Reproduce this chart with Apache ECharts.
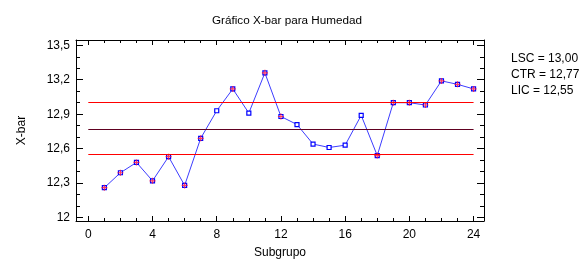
<!DOCTYPE html>
<html><head><meta charset="utf-8">
<script src="https://cdn.jsdelivr.net/npm/echarts@6/dist/echarts.min.js"></script>
<style>html,body{margin:0;padding:0;background:#fff}#c{width:588px;height:264px}</style>
</head><body><div id="c"></div>
<script>
const subgroups = [1,2,3,4,5,6,7,8,9,10,11,12,13,14,15,16,17,18,19,20,21,22,23,24];
const xbar = [12.26,12.39,12.48,12.32,12.53,12.28,12.69,12.93,13.12,12.91,13.26,12.88,
              12.81,12.64,12.61,12.63,12.89,12.54,13.00,13.00,12.98,13.19,13.16,13.12];
const flagged = [1,1,1,1,1,1,1,0,1,0,1,1,0,0,0,0,0,1,1,1,1,1,1,1];
const LSC = 13.00, CTR = 12.77, LIC = 12.55;
const xTickLabels = [0,4,8,12,16,20,24];
const xMinorTicks = [0,1,2,3,4,5,6,7,8,9,10,11,12,13,14,15,16,17,18,19,20,21,22,23,24];
const yTickLabels = [12,12.3,12.6,12.9,13.2,13.5];
const yMinorTicks = [12,12.1,12.2,12.3,12.4,12.5,12.6,12.7,12.8,12.9,13,13.1,13.2,13.3,13.4,13.5];
const title = 'Gráfico X-bar para Humedad';
const xName = 'Subgrupo', yName = 'X-bar';

const fmt = v => String(Math.round(v*10)/10).replace('.', ',');
const fmt2 = v => v.toFixed(2).replace('.', ',');
const FONT = 'Liberation Sans, Arial, sans-serif';
const XMIN = -0.767, XMAX = 24.65, YMIN = 11.97, YMAX = 13.546;

function xAx(pos, major, showLabel) {
  return {
    type: 'value', position: pos, min: XMIN, max: XMAX, splitLine: {show: false},
    axisLine: {show: major, onZero: false, lineStyle: {color: '#000', width: 1}},
    axisTick: {show: true, inside: true, length: major ? 5 : 3, customValues: major ? xTickLabels : xMinorTicks, lineStyle: {color: '#000'}},
    axisLabel: {show: showLabel, customValues: xTickLabels, color: '#000', fontSize: 12, fontFamily: FONT, margin: 8, formatter: fmt},
    name: showLabel ? xName : '', nameLocation: 'middle', nameGap: 26,
    nameTextStyle: {color: '#000', fontSize: 12, fontFamily: FONT}
  };
}
function yAx(pos, major, showLabel) {
  return {
    type: 'value', position: pos, min: YMIN, max: YMAX, splitLine: {show: false},
    axisLine: {show: major, onZero: false, lineStyle: {color: '#000', width: 1}},
    axisTick: {show: true, inside: true, length: major ? 7 : 4, customValues: major ? yTickLabels : yMinorTicks, lineStyle: {color: '#000'}},
    axisLabel: {show: showLabel, customValues: yTickLabels, color: '#000', fontSize: 12, fontFamily: FONT, margin: 6, formatter: fmt},
    name: showLabel ? yName : '', nameLocation: 'middle', nameGap: 48, nameRotate: 90,
    nameTextStyle: {color: '#000', fontSize: 12, fontFamily: FONT}
  };
}

const pts = subgroups.map((s, i) => [s, xbar[i]]);
const redPts = subgroups.map((s, i) => flagged[i] ? [s, xbar[i]] : [s, null]);

const chart = echarts.init(document.getElementById('c'));
chart.setOption({
  animation: false,
  title: {text: title, top: 10, left: 282, textAlign: 'center',
          textStyle: {fontSize: 11.7, fontWeight: 'normal', color: '#000', fontFamily: FONT}},
  grid: {left: 76, top: 40, right: 104, bottom: 41, show: false},
  xAxis: [xAx('bottom', true, true), xAx('bottom', false, false), xAx('top', true, false), xAx('top', false, false)],
  yAxis: [yAx('left', true, true), yAx('left', false, false), yAx('right', true, false), yAx('right', false, false)],
  graphic: [
    {type: 'text', left: 511, top: 53, style: {text: 'LSC = ' + fmt2(LSC), fill: '#000', font: '12px ' + FONT}},
    {type: 'text', left: 511, top: 69, style: {text: 'CTR = ' + fmt2(CTR), fill: '#000', font: '12px ' + FONT}},
    {type: 'text', left: 511, top: 85, style: {text: 'LIC = ' + fmt2(LIC), fill: '#000', font: '12px ' + FONT}}
  ],
  series: [
    {type: 'line', xAxisIndex: 0, yAxisIndex: 0, data: pts, symbol: 'rect', symbolSize: 4,
     lineStyle: {color: '#3c3cff', width: 1}, itemStyle: {color: '#fff', borderColor: '#0000ff', borderWidth: 1.2},
     z: 3,
     markLine: {silent: true, symbol: 'none', label: {show: false},
       data: [
         [{coord: [0, LSC], lineStyle: {color: '#ff0000', width: 1, type: 'solid'}}, {coord: [24, LSC]}],
         [{coord: [0, CTR], lineStyle: {color: '#600020', width: 1, type: 'solid'}}, {coord: [24, CTR]}],
         [{coord: [0, LIC], lineStyle: {color: '#ff0000', width: 1, type: 'solid'}}, {coord: [24, LIC]}]
       ]}},
    {type: 'scatter', xAxisIndex: 0, yAxisIndex: 0, data: redPts, symbol: 'path://M4,0H6V4H10V6H6V10H4V6H0V4H4Z', symbolSize: 6,
     itemStyle: {color: '#ff1040'}, z: 4}
  ]
});
</script></body></html>
